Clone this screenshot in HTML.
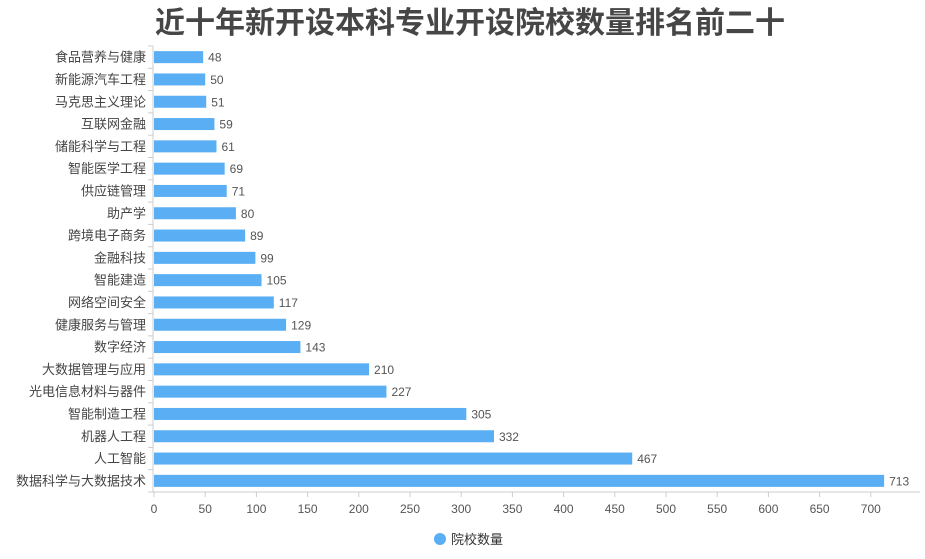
<!DOCTYPE html>
<html><head><meta charset="utf-8"><style>
body{margin:0;background:#fff;}
svg{font-family:"Liberation Sans","Noto Sans CJK SC",sans-serif;}
</style></head><body>
<svg id="c" width="925" height="554" xmlns="http://www.w3.org/2000/svg">
<text x="470" y="33" text-anchor="middle" font-size="30" font-weight="bold" fill="#464646">近十年新开设本科专业开设院校数量排名前二十</text>
<g id="plot"></g>
<g>
<circle cx="440" cy="539" r="6" fill="#5aaef4"/>
<text x="451" y="544" font-size="13" fill="#333">院校数量</text>
</g>
</svg>
<script>
const categories=["食品营养与健康","新能源汽车工程","马克思主义理论","互联网金融","储能科学与工程","智能医学工程","供应链管理","助产学","跨境电子商务","金融科技","智能建造","网络空间安全","健康服务与管理","数字经济","大数据管理与应用","光电信息材料与器件","智能制造工程","机器人工程","人工智能","数据科学与大数据技术"];
const values=[48,50,51,59,61,69,71,80,89,99,105,117,129,143,210,227,305,332,467,713];
const tickLabels=[0,50,100,150,200,250,300,350,400,450,500,550,600,650,700];
const NS="http://www.w3.org/2000/svg";
const plotG=document.getElementById('plot');
const x0=154,xEnd=920,plotTop=46,plotBottom=492,scale=1.024;
const xs=v=>x0+v*scale;
const band=(plotBottom-plotTop)/categories.length;
function mk(t,a){const e=document.createElementNS(NS,t);for(const k in a)e.setAttribute(k,a[k]);plotG.appendChild(e);return e;}
let ax=mk('line',{x1:x0-1,y1:plotBottom,x2:xEnd,y2:plotBottom,stroke:'#ccc'});


let ay=mk('line',{x1:x0-1,y1:plotTop,x2:x0-1,y2:plotBottom,stroke:'#ccc'});


tickLabels.forEach(t=>{
  const x=xs(t);
  let l=mk('line',{x1:x,y1:plotBottom,x2:x,y2:plotBottom+5,stroke:'#ccc'});
  
  
  let tx=mk('text',{x:x,y:plotBottom+21,'text-anchor':'middle','font-size':12,fill:'#555'});
  tx.textContent=t;
  
  
});
for(let i=0;i<=categories.length;i++){
  const y=plotTop+i*band;
  let l=mk('line',{x1:x0-6,y1:y,x2:x0-1,y2:y,stroke:'#ccc'});
  
  
}
categories.forEach((c,i)=>{
  const cy=plotTop+(i+0.5)*band;
  let tx=mk('text',{x:x0-8,y:cy+4.5,'text-anchor':'end','font-size':13,fill:'#444'});
  tx.textContent=c;
  
  
  let r=mk('rect',{x:x0,y:cy-6,width:xs(values[i])-x0,height:12,fill:'#5aaef4'});
  
  
  let v=mk('text',{x:xs(values[i])+5,y:cy+4.5,'font-size':12,fill:'#555'});
  v.textContent=values[i];
  
  
});
</script>
</body></html>
